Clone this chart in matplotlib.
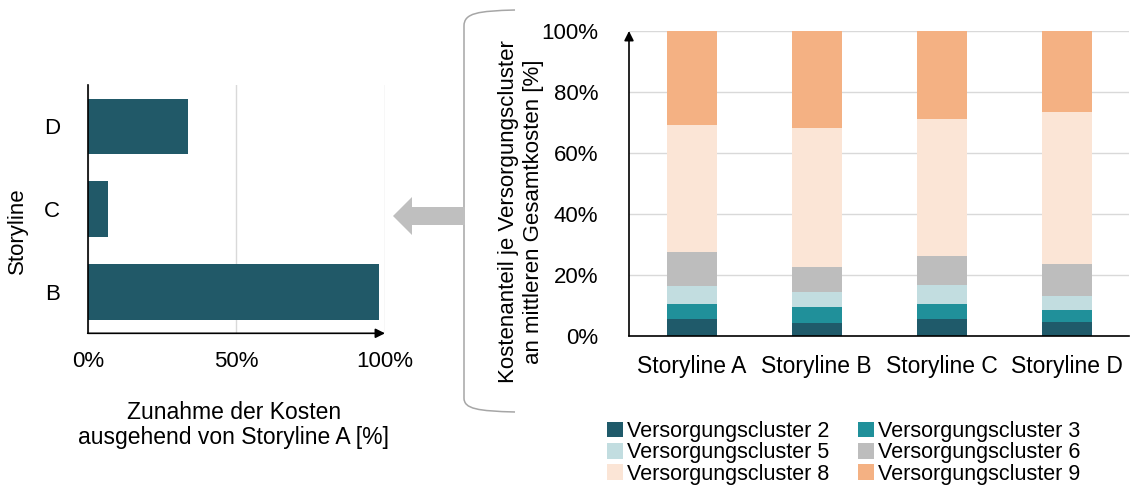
import matplotlib
matplotlib.use("Agg")
import matplotlib.pyplot as plt
from matplotlib.patches import Patch, Polygon, PathPatch
from matplotlib.path import Path

plt.rcParams["font.family"] = ["Liberation Sans", "DejaVu Sans"]

# Left chart: cost increase relative to storyline A
left_labels = ["B", "C", "D"]
left_values = [97.9, 6.7, 33.6]

# Right chart: cost share per supply cluster
storylines = ["Storyline A", "Storyline B", "Storyline C", "Storyline D"]
cluster_names = ["Versorgungscluster 2", "Versorgungscluster 3", "Versorgungscluster 5",
                 "Versorgungscluster 6", "Versorgungscluster 8", "Versorgungscluster 9"]
cluster2 = [5.5, 4.2, 5.7, 4.7]
cluster3 = [4.9, 5.3, 4.8, 3.9]
cluster5 = [6.1, 4.8, 6.2, 4.5]
cluster6 = [11.1, 8.3, 9.4, 10.4]
cluster8 = [41.5, 45.7, 45.0, 50.0]
cluster9 = [30.9, 31.7, 28.9, 26.5]
cluster_colors = ["#1f5a6a", "#20909a", "#c2dde0", "#bdbdbd", "#fbe5d6", "#f4b183"]

W, H = 1138, 488


def px(x, y):
    # pixel (top-left origin) -> figure fraction
    return x / W, 1 - y / H


fig = plt.figure(figsize=(W / 100, H / 100), dpi=100, facecolor="white")

# ---- left chart ----
axl = fig.add_axes([87.7 / W, 1 - 333.3 / H, (385 - 87.7) / W, (333.3 - 85) / H])
axl.barh(range(len(left_labels)), left_values, height=0.67, color="#215968")
axl.set_xlim(0, 100)
axl.set_ylim(-0.5, 2.5)
axl.set_yticks(range(len(left_labels)))
axl.set_yticklabels(left_labels, fontsize=16)
axl.set_xticks([0, 50, 100])
axl.set_xticklabels(["0%", "50%", "100%"], fontsize=16)
axl.tick_params(axis="y", length=0, pad=20)
axl.tick_params(axis="x", length=0, pad=13)
axl.grid(axis="x", color="#d9d9d9", linewidth=1)
axl.set_axisbelow(True)
for s in ["top", "right", "bottom"]:
    axl.spines[s].set_visible(False)
axl.spines["left"].set_color("black")
axl.spines["left"].set_linewidth(1.2)
axl.annotate("", xy=(1.0, 0), xycoords="axes fraction", xytext=(0, 0),
             arrowprops=dict(arrowstyle="-|>", color="black", lw=1.2,
                             mutation_scale=14, shrinkA=0, shrinkB=0))

fig.text(*px(17, 231), "Storyline", rotation=90, ha="center", va="center", fontsize=16)
fig.text(*px(234, 425), "Zunahme der Kosten\nausgehend von Storyline A [%]",
         ha="center", va="center", fontsize=16.5, linespacing=1.15)

# ---- right chart ----
axr = fig.add_axes([629 / W, 1 - 336 / H, (1129 - 629) / W, (336 - 31) / H])
series = [cluster2, cluster3, cluster5, cluster6, cluster8, cluster9]
x = range(len(storylines))
bottom = [0.0] * len(storylines)
handles = []
for vals, name, col in zip(series, cluster_names, cluster_colors):
    axr.bar(x, vals, bottom=bottom, width=0.4, color=col, label=name)
    bottom = [b + v for b, v in zip(bottom, vals)]
    handles.append(Patch(facecolor=col, label=name))
axr.set_xlim(-0.5, 3.5)
axr.set_ylim(0, 100)
axr.set_yticks([0, 20, 40, 60, 80, 100])
axr.set_yticklabels([f"{v}%" for v in [0, 20, 40, 60, 80, 100]], fontsize=16)
axr.set_xticks(list(x))
axr.set_xticklabels(storylines, fontsize=16.5)
axr.tick_params(axis="y", length=0, pad=22)
axr.tick_params(axis="x", length=0, pad=14)
axr.grid(axis="y", color="#d9d9d9", linewidth=1)
axr.set_axisbelow(True)
for s in ["top", "right", "left"]:
    axr.spines[s].set_visible(False)
axr.spines["bottom"].set_color("black")
axr.spines["bottom"].set_linewidth(1.2)
axr.annotate("", xy=(0, 1.0), xycoords="axes fraction", xytext=(0, 0),
             arrowprops=dict(arrowstyle="-|>", color="black", lw=1.2,
                             mutation_scale=14, shrinkA=0, shrinkB=0))

fig.text(*px(521, 212), "Kostenanteil je Versorgungscluster\nan mittleren Gesamtkosten [%]",
         rotation=90, ha="center", va="center", fontsize=16)

# legend, filled row by row
order = [0, 2, 4, 1, 3, 5]
fig.legend([handles[i] for i in order], [cluster_names[i] for i in order],
           ncol=2, loc="upper left", bbox_to_anchor=px(607, 421), frameon=False,
           fontsize=15.5, handlelength=0.75, handleheight=0.75, handletextpad=0.2,
           columnspacing=1.3, labelspacing=0.02, borderpad=0, borderaxespad=0)

# ---- connector: brace and grey arrow ----
brace = Path([px(515, 10), px(478, 11), px(464, 13), px(464, 26),
              px(464, 398),
              px(464, 409), px(478, 411), px(515, 412)],
             [Path.MOVETO, Path.CURVE4, Path.CURVE4, Path.CURVE4,
              Path.LINETO,
              Path.CURVE4, Path.CURVE4, Path.CURVE4])
fig.patches.append(PathPatch(brace, transform=fig.transFigure, fill=False,
                             edgecolor="#a6a6a6", lw=1.1))
arrow_pts = [px(465, 207), px(412, 207), px(412, 197), px(393, 216),
             px(412, 235), px(412, 225), px(465, 225)]
fig.patches.append(Polygon(arrow_pts, closed=True, transform=fig.transFigure,
                           facecolor="#bfbfbf", edgecolor="none"))

fig.savefig("out.png", dpi=100, facecolor="white")
